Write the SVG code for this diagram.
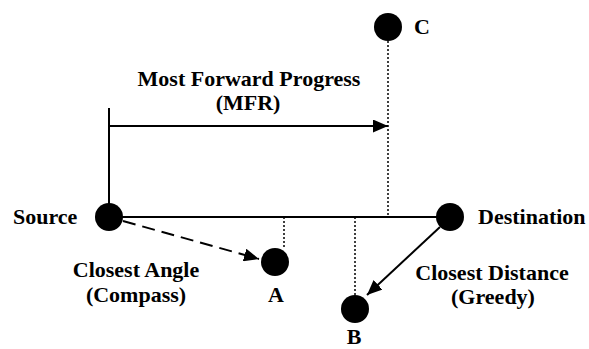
<svg xmlns="http://www.w3.org/2000/svg" width="589" height="349" viewBox="0 0 589 349">
  <style>
    .lbl { font-family: "Liberation Serif", "Times New Roman", serif; font-weight: bold; font-size: 22px; fill: #000; }
    .mid { text-anchor: middle; }
    .node { fill: #000; }
    .solid { stroke: #000; stroke-width: 2; fill: none; }
    .dash { stroke: #000; stroke-width: 2; fill: none; stroke-dasharray: 13 7; }
    .dot { stroke: #000; stroke-width: 1.5; fill: none; stroke-dasharray: 2 2; }
  </style>
  <defs>
    <marker id="arrow" markerUnits="userSpaceOnUse" markerWidth="17" markerHeight="13" refX="15" refY="6.5" orient="auto">
      <path d="M0,0 L15,6.5 L0,13 Z" fill="#000"/>
    </marker>
  </defs>

  <rect width="589" height="349" fill="#fff"/>

  <!-- connectors -->
  <g id="connectors">
    <!-- MFR bracket and progress arrow -->
    <line class="solid" x1="109" y1="108" x2="109" y2="217"/>
    <line class="solid" x1="109" y1="126" x2="388" y2="126" marker-end="url(#arrow)"/>
    <!-- source to destination baseline -->
    <line class="solid" x1="109" y1="217" x2="450" y2="217"/>
    <!-- projections onto the baseline -->
    <line class="dot" x1="388" y1="41" x2="388" y2="217"/>
    <line class="dot" x1="284" y1="217" x2="284" y2="249"/>
    <line class="dot" x1="355" y1="217" x2="355" y2="295"/>
    <!-- compass choice -->
    <line class="dash" x1="123" y1="221" x2="259" y2="259" marker-end="url(#arrow)"/>
    <!-- greedy choice -->
    <line class="solid" x1="440" y1="227" x2="367" y2="295" marker-end="url(#arrow)"/>
  </g>

  <g id="source">
    <circle class="node" cx="109" cy="217" r="14"/>
    <text class="lbl" x="13" y="224">Source</text>
  </g>

  <g id="destination">
    <circle class="node" cx="450" cy="217" r="14"/>
    <text class="lbl" x="478" y="224">Destination</text>
  </g>

  <g id="node-c">
    <circle class="node" cx="388" cy="27" r="14"/>
    <text class="lbl" x="414" y="34">C</text>
  </g>

  <g id="node-a">
    <circle class="node" cx="275" cy="262" r="14"/>
    <text class="lbl mid" x="276" y="302">A</text>
  </g>

  <g id="node-b">
    <circle class="node" cx="355" cy="309" r="14"/>
    <text class="lbl mid" x="354" y="344">B</text>
  </g>

  <g id="label-mfr">
    <text class="lbl mid" x="249" y="86">Most Forward Progress</text>
    <text class="lbl mid" x="248" y="110">(MFR)</text>
  </g>

  <g id="label-compass">
    <text class="lbl mid" x="136" y="277">Closest Angle</text>
    <text class="lbl mid" x="136" y="302">(Compass)</text>
  </g>

  <g id="label-greedy">
    <text class="lbl mid" x="492" y="280">Closest Distance</text>
    <text class="lbl mid" x="493" y="304">(Greedy)</text>
  </g>
</svg>
